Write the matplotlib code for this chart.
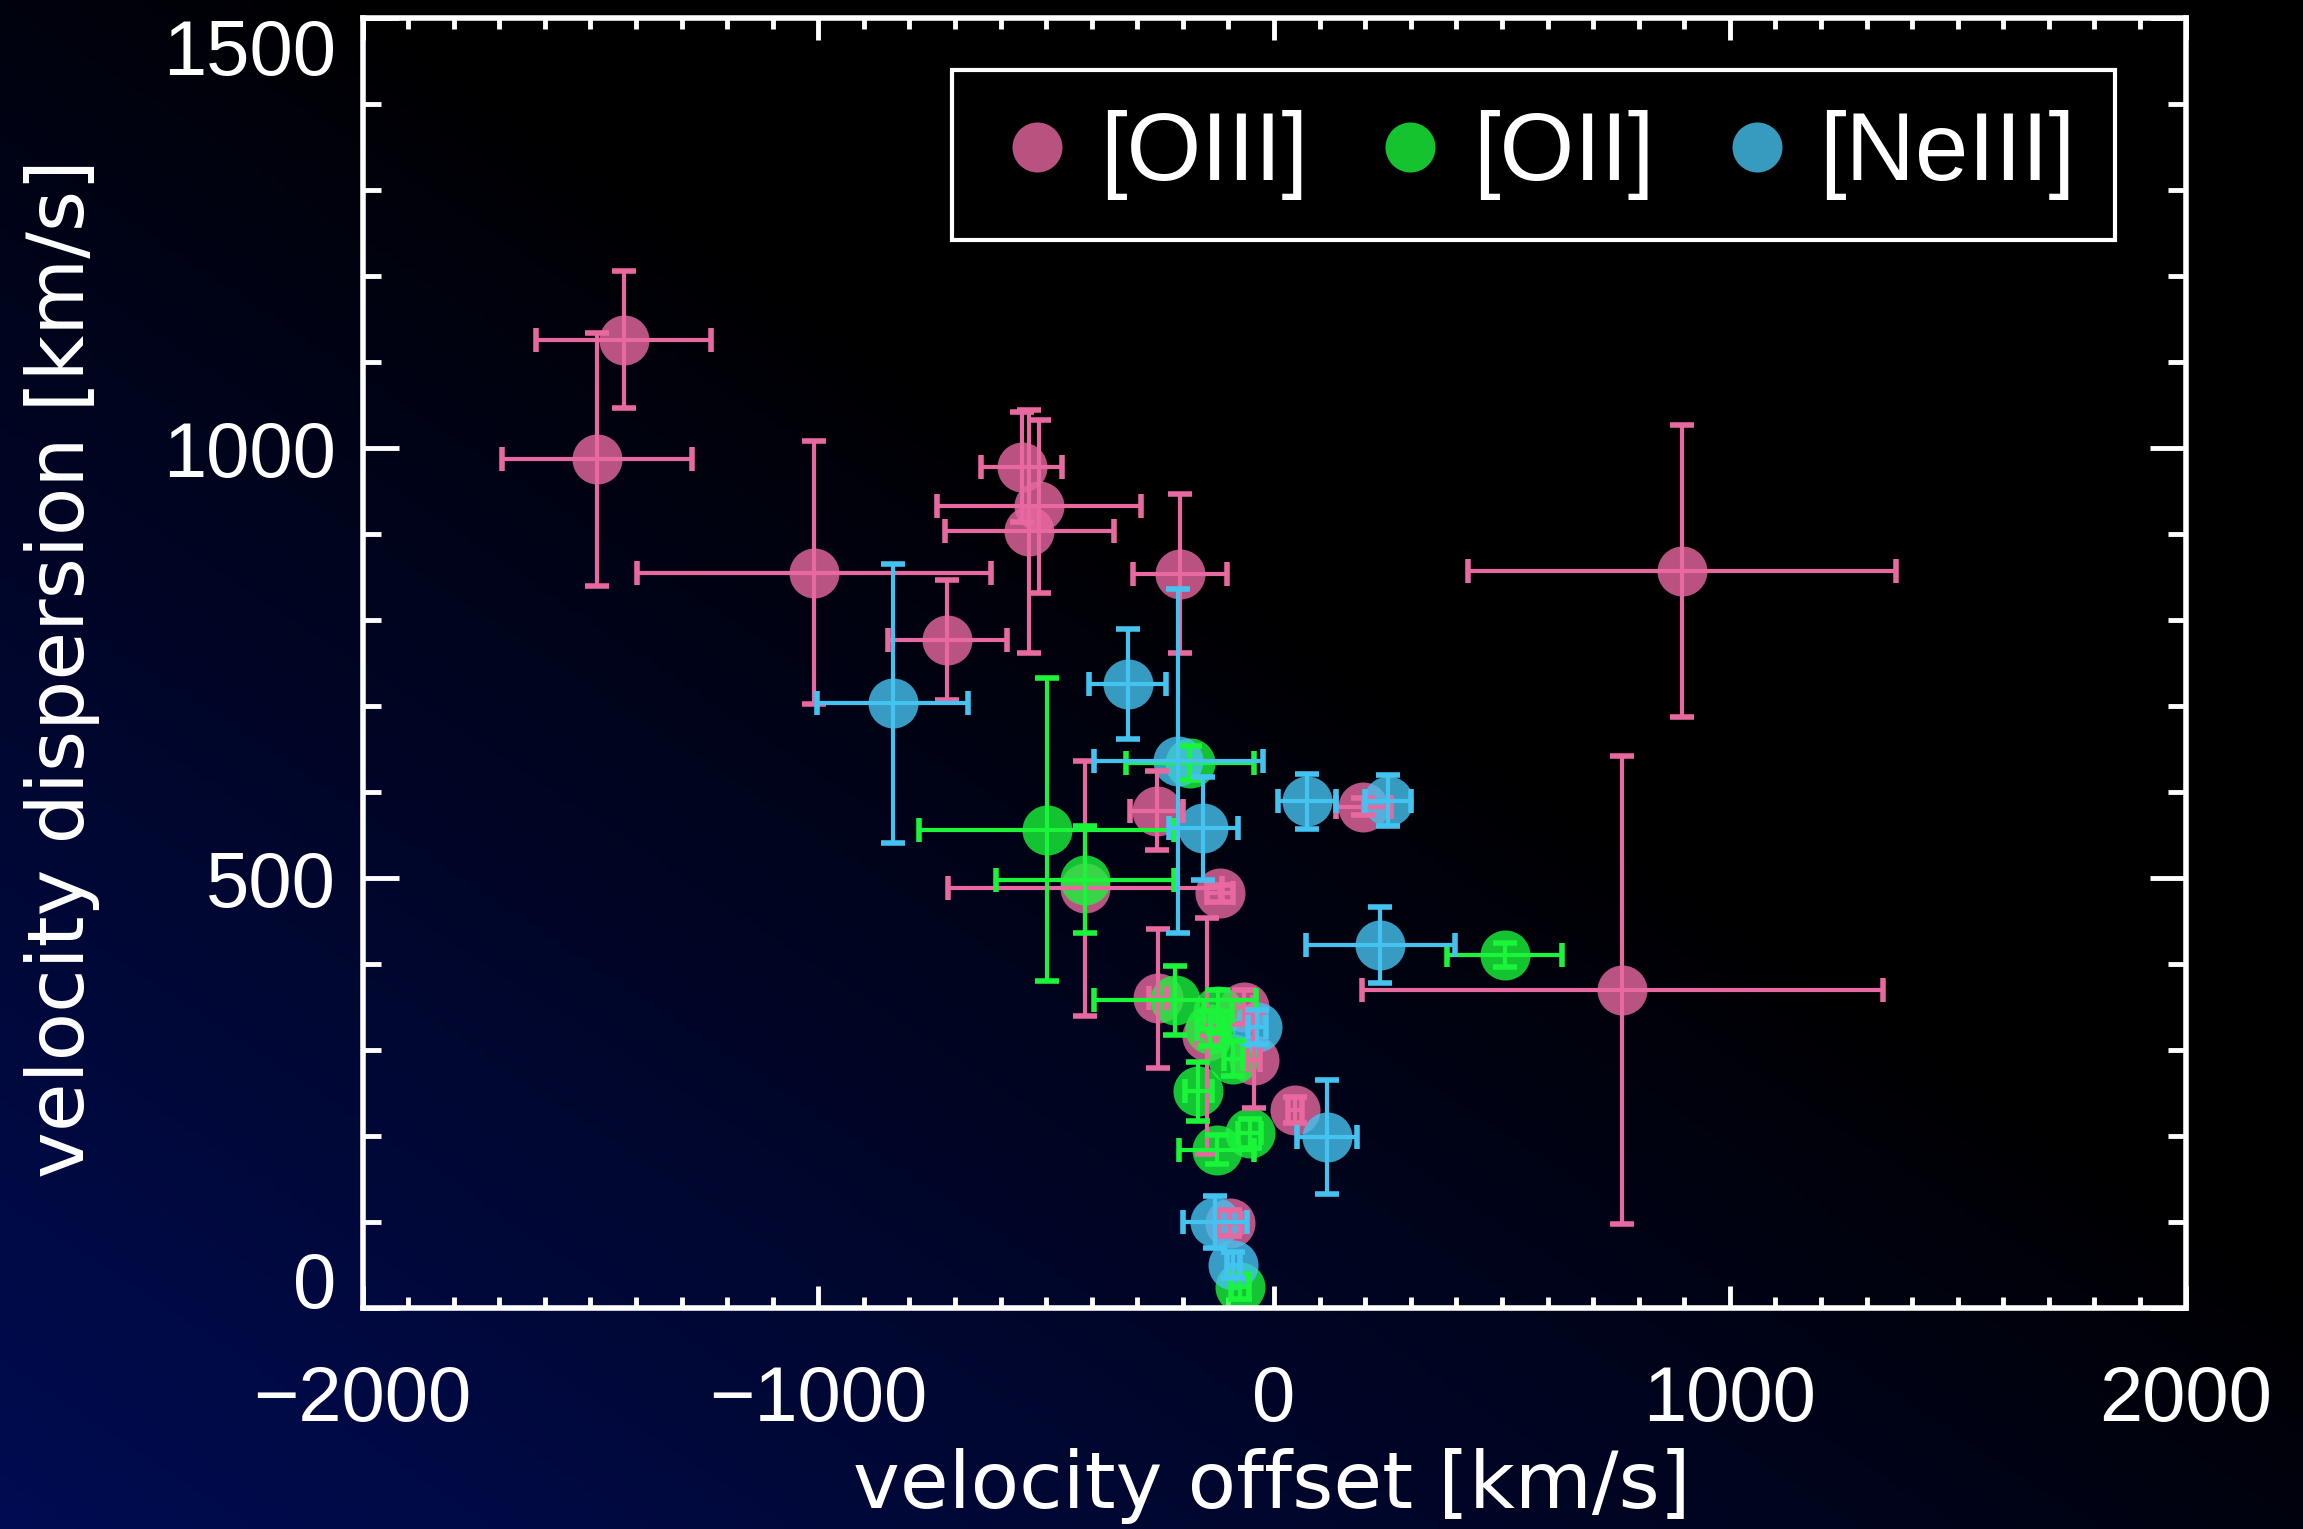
import numpy as np
import matplotlib
matplotlib.use("Agg")
import matplotlib.pyplot as plt
from matplotlib.ticker import MultipleLocator, FixedLocator

# ---------------- data ----------------
oiii_x = [-1427, -1485, -1010, -717, -554, -515, -537, -207, 895, -257, -415, -119, 196, 764, -254, -148, -67, -45, 46, -97]
oiii_y = [1126, 987, 855, 777, 978, 932, 903, 854, 857, 578, 488, 482, 583, 370, 360, 316, 350, 288, 230, 99]
oiii_xerr = [192, 209, 388, 131, 89, 224, 186, 103, 469, 58, 300, 29, 60, 571, 20, 20, 20, 15, 15, 25]
oiii_yerr = [80, 147, 153, 70, 64, 101, 141, 92, 170, 46, 148, 10, 10, 272, 81, 137, 20, 55, 15, 15]

oii_x = [-499, -415, -184, 506, -217, -123, -140, -89, -166, -53, -126, -75]
oii_y = [556, 498, 634, 410, 358, 345, 325, 290, 252, 203, 184, 25]
oii_xerr = [280, 196, 140, 126, 178, 30, 30, 20, 30, 25, 82, 20]
oii_yerr = [176, 62, 20, 14, 40, 25, 20, 20, 34, 17, 17, 15]

neiii_x = [-837, -321, -210, -155, 72, 250, 233, -38, 116, -129, -89]
neiii_y = [703, 726, 636, 558, 589, 590, 422, 327, 199, 100, 50]
neiii_xerr = [165, 84, 185, 75, 64, 50, 163, 20, 66, 70, 15]
neiii_yerr = [162, 64, 200, 60, 32, 30, 44, 20, 66, 30, 15]

labels = ["[OIII]", "[OII]", "[NeIII]"]
colors = ["#E868A0", "#1AF53A", "#45C3F0"]

xticks = [-2000, -1000, 0, 1000, 2000]
yticks = [0, 500, 1000, 1500]

# ---------------- figure ----------------
W, H, DPI = 2303, 1529, 100
fig = plt.figure(figsize=(W / DPI, H / DPI), dpi=DPI)
fig.patch.set_facecolor("black")

# background gradient (black top-right -> navy bottom-left)
bg = fig.add_axes([0, 0, 1, 1], zorder=-5)
bg.set_axis_off()
gx = np.linspace(0, 1, 300)
gy = np.linspace(0, 1, 200)
GX, GY = np.meshgrid(gx, gy)  # GY=0 top
s = 0.5 * ((1 - GX) + GY)
f = np.clip((s - 0.42) / 0.58, 0, 1) ** 0.9
navy = np.array([0, 12, 82]) / 255.0
img = f[..., None] * navy[None, None, :]
bg.imshow(img, aspect="auto", extent=[0, 1, 0, 1], origin="upper")
bg.set_xlim(0, 1)
bg.set_ylim(0, 1)

ax = fig.add_axes([362.5 / W, 1 - 1308 / H, (2185.6 - 362.5) / W, (1308 - 18) / H])
ax.set_facecolor("none")

series = [
    (oiii_x, oiii_y, oiii_xerr, oiii_yerr),
    (oii_x, oii_y, oii_xerr, oii_yerr),
    (neiii_x, neiii_y, neiii_xerr, neiii_yerr),
]
for (x, y, xe, ye), c, lab in zip(series, colors, labels):
    ax.plot(x, y, "o", ms=36, color=c, alpha=0.8, mec="none", label=lab, zorder=2)
    ax.errorbar(x, y, xerr=xe, yerr=ye, fmt="none", ecolor=c, elinewidth=3,
                capsize=8.5, capthick=4, zorder=3)

ax.set_xlim(-2000, 2000)
ax.set_ylim(0, 1500)
ax.xaxis.set_major_locator(FixedLocator(xticks))
ax.yaxis.set_major_locator(FixedLocator(yticks))
ax.xaxis.set_minor_locator(MultipleLocator(100))
ax.yaxis.set_minor_locator(MultipleLocator(100))

for sp in ax.spines.values():
    sp.set_color("white")
    sp.set_linewidth(4)

ax.tick_params(which="both", direction="in", top=True, right=True, colors="white", width=3.5)
ax.xaxis.set_tick_params(which="major", length=16, pad=40)
ax.xaxis.set_tick_params(which="minor", length=8)
ax.yaxis.set_tick_params(which="major", length=26, pad=19)
ax.yaxis.set_tick_params(which="minor", length=13)

tickfont = dict(family=["Liberation Sans", "DejaVu Sans"], size=56)
ax.set_xticklabels([f"{v}".replace("-", "\u2212") for v in xticks], fontdict=tickfont, color="white")
ax.set_yticklabels([f"{v}" for v in yticks], fontdict=tickfont, color="white")
ylabs = ax.get_yticklabels()
ylabs[0].set_va("baseline")
ylabs[-1].set_va("top")

labfont = dict(family=["DejaVu Sans"], size=57, color="white")
ax.set_xlabel("velocity offset [km/s]", **labfont)
ax.set_ylabel("velocity dispersion [km/s]", **labfont)
ax.xaxis.label.set_va("center")
ax.yaxis.label.set_va("center")
ax.xaxis.set_label_coords(0.499, -0.138)
ax.yaxis.set_label_coords(-0.165, 0.496)

leg = ax.legend(loc="upper left", bbox_to_anchor=(0.3234, 0.9597), ncol=3,
                prop=dict(family=["Liberation Sans", "DejaVu Sans"], size=69),
                frameon=True, fancybox=False, borderpad=0.42, handlelength=0.94,
                handletextpad=0.18, columnspacing=0.6, markerscale=1.0,
                borderaxespad=0)
leg.get_frame().set_facecolor("black")
leg.get_frame().set_edgecolor("white")
leg.get_frame().set_linewidth(3)
leg.get_frame().set_alpha(1)
for t in leg.get_texts():
    t.set_color("white")

fig.savefig("out.png", dpi=DPI, facecolor=fig.get_facecolor())
